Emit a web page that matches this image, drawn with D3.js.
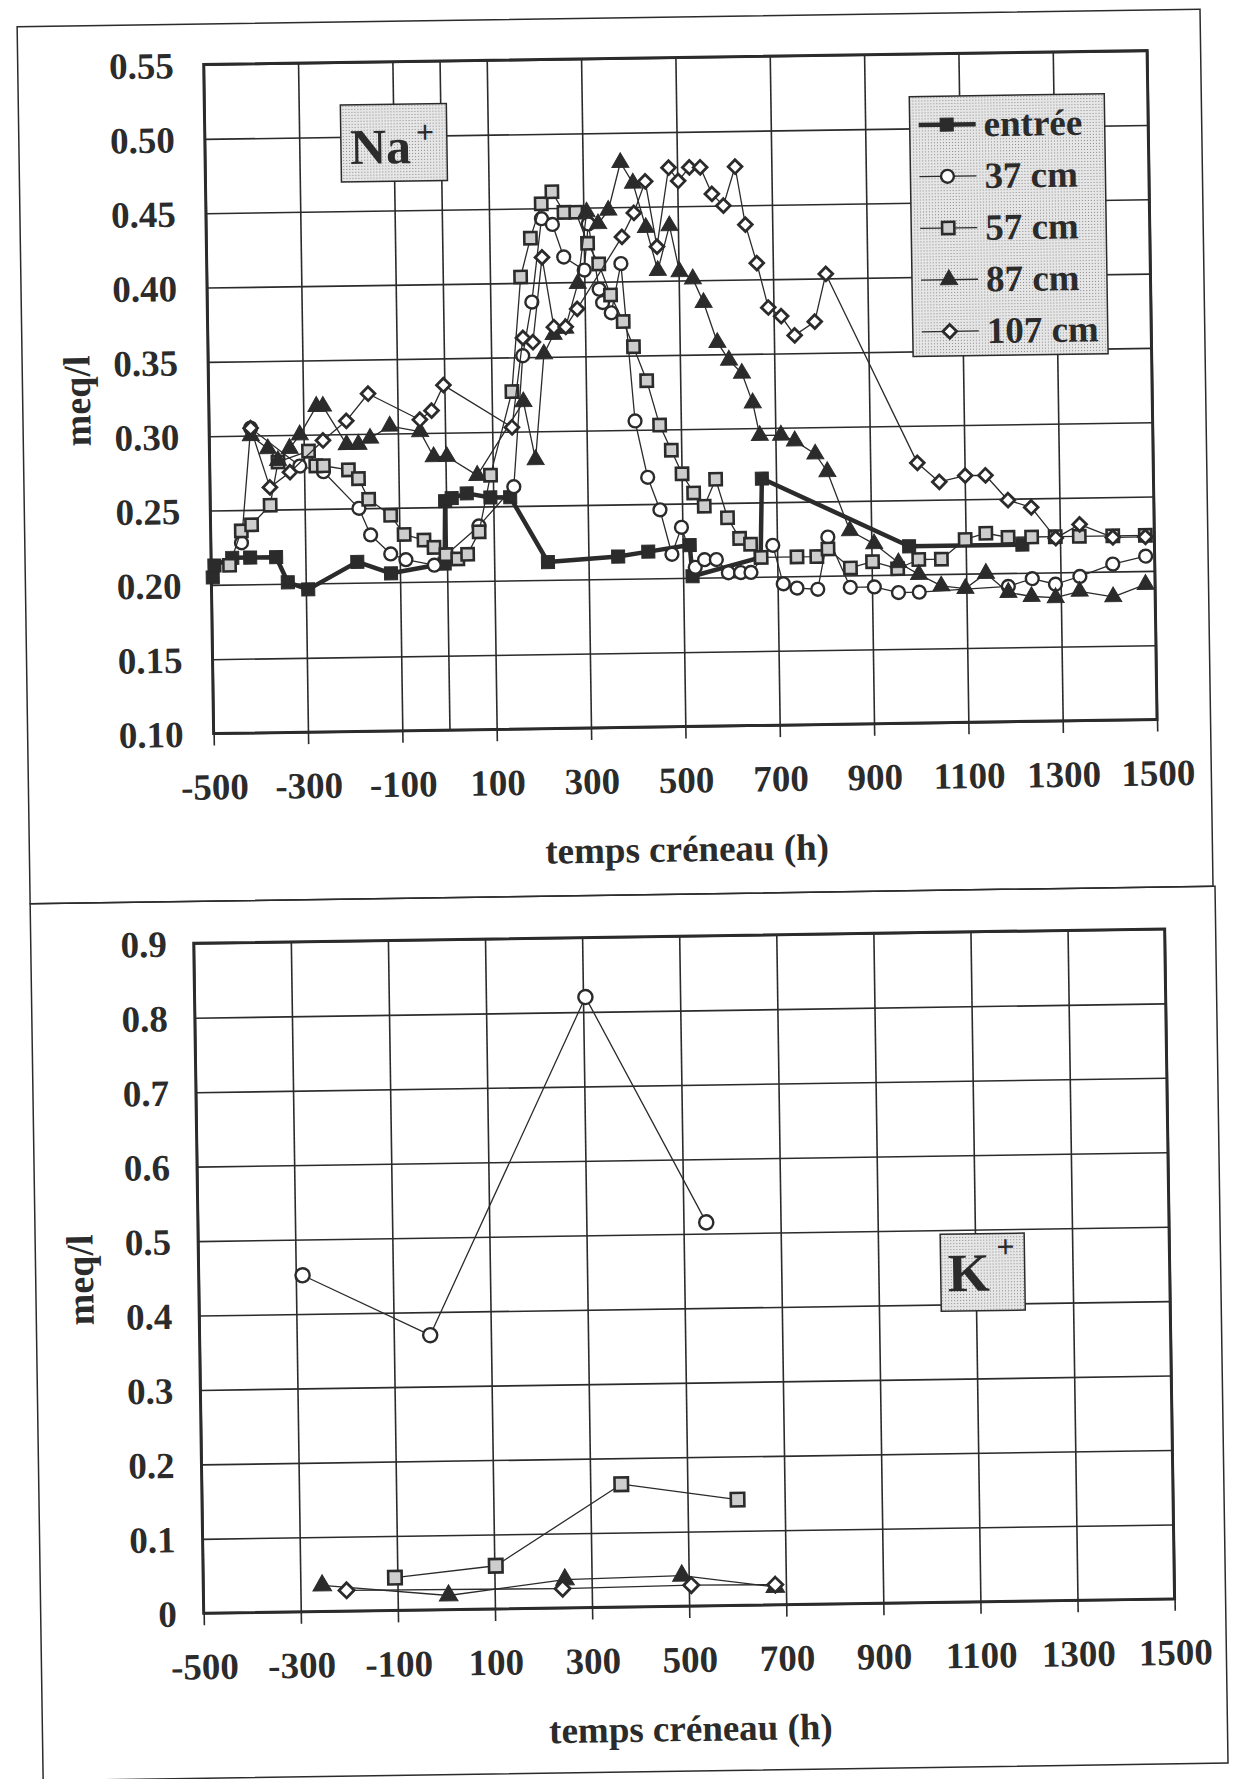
<!DOCTYPE html>
<html>
<head>
<meta charset="utf-8">
<script src="https://cdn.jsdelivr.net/npm/d3@7"></script>
<style>
  body { margin: 0; background: #fff; }
  svg { display: block; }
</style>
</head>
<body>
<script>
// ---- data (temps créneau in h, concentration in meq/l) ----
const xTicks = [-500, -300, -100, 100, 300, 500, 700, 900, 1100, 1300, 1500];
const naTicks = [0.10, 0.15, 0.20, 0.25, 0.30, 0.35, 0.40, 0.45, 0.50, 0.55];
const kTicks = [0, 0.1, 0.2, 0.3, 0.4, 0.5, 0.6, 0.7, 0.8, 0.9];
const seriesNames = ["entrée", "37 cm", "57 cm", "87 cm", "107 cm"];

const naEntree = [[-497,0.205],[-493,0.213],[-455,0.218],[-417,0.218],[-362,0.218],[-338,0.201],[-295,0.196],
  [-190,0.214],[-119,0.206],[-5,0.212],[-2,0.254],[12,0.256],[44,0.259],[94,0.256],[136,0.256],[214,0.212],
  [363,0.215],[427,0.218],[515,0.222],[520,0.201],[665,0.213],[670,0.266],[980,0.219],[1220,0.219]];

const na37 = [[-435,0.228],[-412,0.305],[-309,0.279],[-259,0.275],[-185,0.25],[-161,0.232],[-119,0.219],
  [-87,0.215],[-27,0.211],[69,0.237],[144,0.263],[167,0.351],[188,0.387],[211,0.443],[234,0.439],[257,0.417],
  [300,0.408],[310,0.439],[331,0.395],[338,0.386],[356,0.379],[378,0.412],[403,0.306],[428,0.268],[453,0.246],
  [477,0.216],[498,0.234],[526,0.207],[546,0.212],[571,0.212],[596,0.203],[622,0.203],[644,0.203],[691,0.221],
  [712,0.195],[741,0.192],[785,0.191],[808,0.226],[854,0.192],[905,0.192],[956,0.188],[1000,0.188],
  [1189,0.191],[1240,0.196],[1289,0.192],[1341,0.197],[1411,0.205],[1481,0.21]];

const na57 = [[-461,0.213],[-435,0.236],[-413,0.24],[-373,0.253],[-355,0.282],[-290,0.289],[-275,0.279],
  [-259,0.279],[-206,0.276],[-185,0.27],[-164,0.256],[-118,0.245],[-90,0.232],[-48,0.228],[-27,0.223],
  [-2,0.218],[23,0.215],[44,0.218],[69,0.233],[95,0.271],[143,0.327],[165,0.404],[187,0.43],[211,0.453],
  [234,0.461],[259,0.447],[284,0.447],[308,0.426],[331,0.412],[355,0.391],[381,0.373],[402,0.356],[429,0.333],
  [455,0.303],[479,0.286],[501,0.27],[525,0.257],[547,0.248],[572,0.266],[596,0.24],[621,0.226],[644,0.222],
  [666,0.213],[742,0.213],[784,0.213],[808,0.218],[855,0.205],[902,0.209],[955,0.204],[1000,0.21],[1048,0.21],
  [1099,0.223],[1143,0.227],[1190,0.224],[1240,0.224],[1290,0.224],[1341,0.224],[1412,0.224],[1481,0.224]];

const na87 = [[-412,0.3],[-376,0.291],[-355,0.283],[-330,0.291],[-308,0.3],[-272,0.319],[-258,0.319],
  [-209,0.293],[-184,0.293],[-159,0.297],[-117,0.305],[-53,0.301],[-25,0.284],[3,0.284],[67,0.271],
  [167,0.32],[191,0.281],[212,0.352],[233,0.365],[258,0.369],[286,0.399],[307,0.447],[331,0.439],[353,0.448],
  [380,0.48],[406,0.466],[432,0.436],[456,0.407],[482,0.437],[502,0.406],[530,0.401],[552,0.385],[580,0.358],
  [604,0.346],[631,0.337],[653,0.317],[667,0.295],[712,0.295],[741,0.291],[784,0.282],[809,0.27],[855,0.23],
  [906,0.221],[957,0.208],[1000,0.2],[1047,0.192],[1098,0.19],[1142,0.2],[1189,0.187],[1238,0.184],
  [1289,0.183],[1340,0.187],[1411,0.183],[1480,0.191]];

const na107 = [[-412,0.305],[-373,0.265],[-330,0.275],[-259,0.296],[-209,0.309],[-162,0.327],[-53,0.309],
  [-28,0.315],[-2,0.332],[142,0.303],[168,0.363],[189,0.36],[211,0.417],[234,0.37],[259,0.37],[284,0.382],
  [381,0.43],[407,0.446],[432,0.467],[455,0.423],[482,0.476],[502,0.467],[526,0.476],[549,0.476],[573,0.458],
  [597,0.45],[623,0.476],[643,0.437],[666,0.411],[689,0.381],[716,0.375],[744,0.362],[787,0.371],[812,0.403],
  [1000,0.275],[1046,0.262],[1101,0.266],[1144,0.266],[1191,0.249],[1240,0.244],[1291,0.223],[1342,0.232],
  [1412,0.223],[1481,0.223]];

const k37 = [[-286,0.452],[-25,0.369],[305,0.82],[547,0.515]];
const k57 = [[-105,0.044],[103,0.058],[364,0.165],[603,0.142]];
const k87 = [[-255,0.035],[5,0.019],[245,0.038],[486,0.041],[678,0.024]];
const k107 = [[-205,0.028],[240,0.026],[505,0.028],[678,0.027]];

// ---- drawing ----
const W = 1243, H = 1779;
const ink = "#2b2b2b";
const serif = "'Liberation Serif', 'Times New Roman', serif";

const svg = d3.select("body").append("svg").attr("width", W).attr("height", H);

// stippled grey fill of the label boxes
const pat = svg.append("defs").append("pattern")
  .attr("id", "dots").attr("width", 3).attr("height", 3).attr("patternUnits", "userSpaceOnUse");
pat.append("rect").attr("width", 3).attr("height", 3).attr("fill", "#e6e6e6");
pat.append("rect").attr("width", 1).attr("height", 1).attr("fill", "#8c8c8c");

// the scanned page is slightly tilted
const page = svg.append("g").attr("transform", "rotate(-0.85,621,890)");

page.append("rect").attr("x", 30).attr("y", 18).attr("width", 1183).attr("height", 877)
  .attr("fill", "none").attr("stroke", ink).attr("stroke-width", 1.5);
page.append("rect").attr("x", 30).attr("y", 895).attr("width", 1185).attr("height", 877)
  .attr("fill", "none").attr("stroke", ink).attr("stroke-width", 1.5);

const styles = [
  {sym: d3.symbolSquare, size: 170, fill: ink, sw: 1, lw: 4.5, rot: 0},
  {sym: d3.symbolCircle, size: 130, fill: "#fff", sw: 2.4, lw: 1.3, rot: 0},
  {sym: d3.symbolSquare, size: 150, fill: "#cdcdcd", sw: 2.6, lw: 1.3, rot: 0},
  {sym: d3.symbolTriangle, size: 125, fill: ink, sw: 1, lw: 1.3, rot: 0},
  {sym: d3.symbolSquare, size: 95, fill: "#fff", sw: 2.8, lw: 1.3, rot: 45}
];

function marker(sel, st, scale) {
  sel.attr("d", d3.symbol(st.sym, st.size * scale * scale))
    .attr("fill", st.fill).attr("stroke", ink).attr("stroke-width", st.sw);
}

function labelBox(g, b) {
  g.append("rect").attr("x", b.x).attr("y", b.y).attr("width", b.w).attr("height", b.h)
    .attr("fill", "url(#dots)").attr("stroke", ink).attr("stroke-width", 1.5);
  g.append("text").attr("x", b.tx).attr("y", b.ty).attr("font-family", serif).attr("font-weight", "bold")
    .attr("font-size", b.fs).attr("fill", ink).text(b.ion);
  g.append("text").attr("x", b.px).attr("y", b.py).attr("font-family", serif).attr("font-weight", "bold")
    .attr("font-size", 32).attr("fill", ink).text("+");
}

function panel(p) {
  const g = page.append("g");
  const x = d3.scaleLinear().domain([-500, 1500]).range([p.left, p.right]);
  const y = d3.scaleLinear().domain(p.yDomain).range([p.bottom, p.top]);
  const w = p.right - p.left, h = p.bottom - p.top;

  // grid
  g.append("g").attr("transform", `translate(0,${p.bottom})`)
    .call(d3.axisBottom(x).tickValues(p.xGrid).tickSize(-h).tickFormat(""))
    .call(a => a.select(".domain").remove())
    .selectAll("line").attr("stroke", ink).attr("stroke-width", 1.6);
  g.append("g").attr("transform", `translate(${p.left},0)`)
    .call(d3.axisLeft(y).tickValues(p.yTicks).tickSize(-w).tickFormat(""))
    .call(a => a.select(".domain").remove())
    .selectAll("line").attr("stroke", ink).attr("stroke-width", 1.6);

  // x axis: outside ticks and labels
  const xa = g.append("g").attr("transform", `translate(0,${p.bottom})`)
    .call(d3.axisBottom(x).tickValues(xTicks).tickSize(12).tickFormat(d => String(d)));
  xa.select(".domain").remove();
  xa.selectAll("line").attr("stroke", ink).attr("stroke-width", 1.6);
  xa.selectAll("text").attr("y", 66).attr("dy", null).attr("fill", ink)
    .attr("font-family", serif).attr("font-weight", "bold").attr("font-size", 37);

  // y axis labels
  const ya = g.append("g").attr("transform", `translate(${p.left},0)`)
    .call(d3.axisLeft(y).tickValues(p.yTicks).tickSize(0).tickPadding(p.gap).tickFormat(p.fmt));
  ya.select(".domain").remove();
  ya.selectAll("text").attr("fill", ink).attr("dy", "0.34em")
    .attr("font-family", serif).attr("font-weight", "bold").attr("font-size", 37);

  // plot frame
  g.append("rect").attr("x", p.left).attr("y", p.top).attr("width", w).attr("height", h)
    .attr("fill", "none").attr("stroke", ink).attr("stroke-width", 3);

  // axis titles
  g.append("text").attr("x", (p.left + p.right) / 2).attr("y", p.bottom + 135)
    .attr("text-anchor", "middle").attr("font-family", serif).attr("font-weight", "bold")
    .attr("font-size", 37).attr("fill", ink).text("temps créneau (h)");
  g.append("text").attr("transform", `translate(${p.titleX},${(p.top + p.bottom) / 2}) rotate(-90)`)
    .attr("text-anchor", "middle").attr("dy", "0.35em").attr("font-family", serif).attr("font-weight", "bold")
    .attr("font-size", 38).attr("fill", ink).text("meq/l");

  // series
  const line = d3.line().x(d => x(d[0])).y(d => y(d[1]));
  p.series.forEach((data, i) => {
    const st = styles[i];
    g.append("path").datum(data).attr("d", line)
      .attr("fill", "none").attr("stroke", ink).attr("stroke-width", st.lw)
      .attr("stroke-linejoin", "round");
    g.append("g").selectAll("path").data(data).join("path")
      .call(marker, st, p.markScale)
      .attr("transform", d => `translate(${x(d[0])},${y(d[1])}) rotate(${st.rot})`);
  });
  return g;
}

// Na+ panel
const gNa = panel({
  left: 216, right: 1159.5, top: 58.5, bottom: 727.5,
  yDomain: [0.10, 0.55], yTicks: naTicks, fmt: d => d.toFixed(2), gap: 30, titleX: 84,
  xGrid: xTicks.concat([0]),
  series: [naEntree, na37, na57, na87, na107], markScale: 1
});
labelBox(gNa, {x: 352, y: 101, w: 106, h: 77, ion: "Na", fs: 50, tx: 361, ty: 160, px: 427, py: 140});

// legend
const lg = gNa.append("g");
lg.append("rect").attr("x", 921).attr("y", 101).attr("width", 195).attr("height", 260)
  .attr("fill", "url(#dots)").attr("stroke", ink).attr("stroke-width", 1.5);
seriesNames.forEach((name, i) => {
  const cy = 129.5 + i * 51.7, st = styles[i];
  lg.append("line").attr("x1", 930).attr("x2", 987).attr("y1", cy).attr("y2", cy)
    .attr("stroke", ink).attr("stroke-width", st.lw);
  lg.append("path").call(marker, st, 1).attr("transform", `translate(958,${cy}) rotate(${st.rot})`);
  lg.append("text").attr("x", 995).attr("y", cy).attr("dy", "0.33em")
    .attr("font-family", serif).attr("font-weight", "bold").attr("font-size", 37).attr("fill", ink).text(name);
});

// K+ panel
const gK = panel({
  left: 193, right: 1164, top: 937, bottom: 1607,
  yDomain: [0, 0.9], yTicks: kTicks, fmt: d => d === 0 ? "0" : d.toFixed(1), gap: 27, titleX: 74,
  xGrid: xTicks,
  series: [[], k37, k57, k87, k107], markScale: 1.1
});
labelBox(gK, {x: 935, y: 1239, w: 84, h: 77, ion: "K", fs: 54, tx: 942, ty: 1296, px: 991, py: 1263});
</script>
</body>
</html>
